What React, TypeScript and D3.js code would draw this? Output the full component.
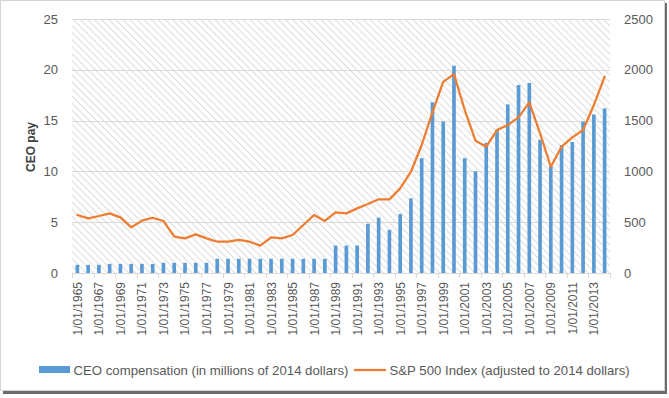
import React, { useEffect, useRef } from "react";
import * as d3 from "d3";

const years = d3.range(1965, 2015).map((y) => String(y));

// CEO compensation, millions of 2014 dollars
const ceoPay = [
  0.8, 0.8, 0.8, 0.9, 0.9, 0.9, 0.9, 0.9, 1.0, 1.0,
  1.0, 1.0, 1.0, 1.4, 1.4, 1.4, 1.4, 1.4, 1.4, 1.4,
  1.4, 1.4, 1.4, 1.4, 2.7, 2.7, 2.7, 4.85, 5.45, 4.25,
  5.8, 7.35, 11.3, 16.8, 14.9, 20.4, 11.3, 10.0, 12.8, 14.1,
  16.6, 18.5, 18.7, 13.1, 10.5, 12.6, 12.9, 14.9, 15.6, 16.2,
];

// S&P 500 index adjusted to 2014 dollars
const spIndex = [
  571, 538, 561, 587, 548, 449, 515, 544, 512, 357,
  341, 380, 341, 308, 308, 325, 308, 269, 351, 341,
  374, 472, 571, 512, 597, 587, 636, 679, 725, 725,
  833, 997, 1260, 1581, 1882, 1958, 1604, 1302, 1243, 1407,
  1456, 1532, 1680, 1375, 1046, 1243, 1335, 1407, 1653, 1932,
];

const leftTicks = [0, 5, 10, 15, 20, 25];
const rightTicks = [0, 500, 1000, 1500, 2000, 2500];

const FONT = "'Liberation Sans', Arial, sans-serif";

export default function App() {
  const ref = useRef<SVGSVGElement>(null);

  useEffect(() => {
    document.body.style.margin = "0";
    const svg = d3.select(ref.current);
    svg.selectAll("*").remove();

    const W = 669;
    const H = 398;
    const margin = { top: 19, right: 59, bottom: 125, left: 72 };
    const width = W - margin.left - margin.right;
    const height = H - margin.top - margin.bottom;

    // frame with shadow
    svg.append("rect").attr("x", 3).attr("y", 3).attr("width", 664).attr("height", 391).attr("fill", "#6b6b6b");
    svg.append("rect").attr("x", 0.5).attr("y", 0.5).attr("width", 664).attr("height", 390)
      .attr("fill", "#fff").attr("stroke", "#d4d4d4");

    const defs = svg.append("defs");
    const pat = defs.append("pattern")
      .attr("id", "hatch")
      .attr("patternUnits", "userSpaceOnUse")
      .attr("width", 5)
      .attr("height", 5)
      .attr("patternTransform", "rotate(-45)");
    pat.append("rect").attr("width", 5).attr("height", 5).attr("fill", "#fff");
    pat.append("line").attr("x1", 0).attr("y1", 0).attr("x2", 0).attr("y2", 5)
      .attr("stroke", "#d6d6d6").attr("stroke-width", 1.7);

    const g = svg.append("g").attr("transform", "translate(" + margin.left + "," + margin.top + ")");

    const x = d3.scaleBand().domain(years).range([0, width]).padding(0);
    const yL = d3.scaleLinear().domain([0, 25]).range([height, 0]);
    const yR = d3.scaleLinear().domain([0, 2500]).range([height, 0]);

    g.append("rect").attr("width", width).attr("height", height).attr("fill", "url(#hatch)");

    // gridlines
    g.selectAll(".grid")
      .data(leftTicks)
      .enter()
      .append("line")
      .attr("x1", 0)
      .attr("x2", width)
      .attr("y1", (d) => Math.round(yL(d)) + 0.5)
      .attr("y2", (d) => Math.round(yL(d)) + 0.5)
      .attr("stroke", "#d9d9d9")
      .attr("stroke-width", 1);

    // bars
    const bw = x.bandwidth() * 0.34;
    g.selectAll(".bar")
      .data(ceoPay)
      .enter()
      .append("rect")
      .attr("x", (d, i) => (x(years[i]) as number) + (x.bandwidth() - bw) / 2)
      .attr("y", (d) => yL(d))
      .attr("width", bw)
      .attr("height", (d) => height - yL(d))
      .attr("fill", "#5b9bd5");

    // line
    const line = d3
      .line<number>()
      .x((d, i) => (x(years[i]) as number) + x.bandwidth() / 2)
      .y((d) => yR(d));
    g.append("path")
      .datum(spIndex)
      .attr("d", line)
      .attr("fill", "none")
      .attr("stroke", "#ed7d31")
      .attr("stroke-width", 2.25)
      .attr("stroke-linejoin", "round")
      .attr("stroke-linecap", "round");

    // x axis
    g.append("line").attr("x1", 0).attr("x2", width)
      .attr("y1", height + 0.5).attr("y2", height + 0.5).attr("stroke", "#d9d9d9");
    const tickIdx = d3.range(0, years.length + 1, 2);
    g.selectAll(".xtick")
      .data(tickIdx)
      .enter()
      .append("line")
      .attr("x1", (d) => Math.round(d * x.step()) + 0.5)
      .attr("x2", (d) => Math.round(d * x.step()) + 0.5)
      .attr("y1", height)
      .attr("y2", height + 5)
      .attr("stroke", "#d9d9d9");

    g.selectAll(".xlabel")
      .data(years.filter((d, i) => i % 2 === 0))
      .enter()
      .append("text")
      .attr("transform", (d) =>
        "translate(" + ((x(d) as number) + x.bandwidth() / 2 + 4.5) + "," + (height + 9) + ")rotate(-90)")
      .attr("text-anchor", "end")
      .attr("font-family", FONT)
      .attr("font-size", 12)
      .attr("fill", "#595959")
      .text((d) => "1/01/" + d);

    // left axis labels
    g.selectAll(".ylabel")
      .data(leftTicks)
      .enter()
      .append("text")
      .attr("x", -14)
      .attr("y", (d) => yL(d) + 4.5)
      .attr("text-anchor", "end")
      .attr("font-family", FONT)
      .attr("font-size", 13)
      .attr("fill", "#595959")
      .text((d) => d);

    // right axis labels
    g.selectAll(".yrlabel")
      .data(rightTicks)
      .enter()
      .append("text")
      .attr("x", width + 14)
      .attr("y", (d) => yR(d) + 4.5)
      .attr("text-anchor", "start")
      .attr("font-family", FONT)
      .attr("font-size", 13)
      .attr("fill", "#595959")
      .text((d) => d);

    svg.append("text")
      .attr("transform", "translate(35,147)rotate(-90)")
      .attr("text-anchor", "middle")
      .attr("font-family", FONT)
      .attr("font-size", 12)
      .attr("font-weight", "bold")
      .attr("fill", "#404040")
      .text("CEO pay");

    // legend
    const lg = svg.append("g").attr("transform", "translate(39,370)");
    lg.append("rect").attr("x", 0).attr("y", -4).attr("width", 31).attr("height", 7).attr("fill", "#5b9bd5");
    lg.append("text").attr("x", 34.5).attr("y", 5).attr("font-family", FONT).attr("font-size", 13.2)
      .attr("fill", "#595959").text("CEO compensation (in millions of 2014 dollars)");
    lg.append("line").attr("x1", 315).attr("x2", 347).attr("y1", 0).attr("y2", 0)
      .attr("stroke", "#ed7d31").attr("stroke-width", 2.25);
    lg.append("text").attr("x", 350.5).attr("y", 5).attr("font-family", FONT).attr("font-size", 13.2)
      .attr("fill", "#595959").text("S&P 500 Index (adjusted to 2014 dollars)");
  }, []);

  return <svg ref={ref} width={669} height={398} style={{ display: "block" }}></svg>;
}
